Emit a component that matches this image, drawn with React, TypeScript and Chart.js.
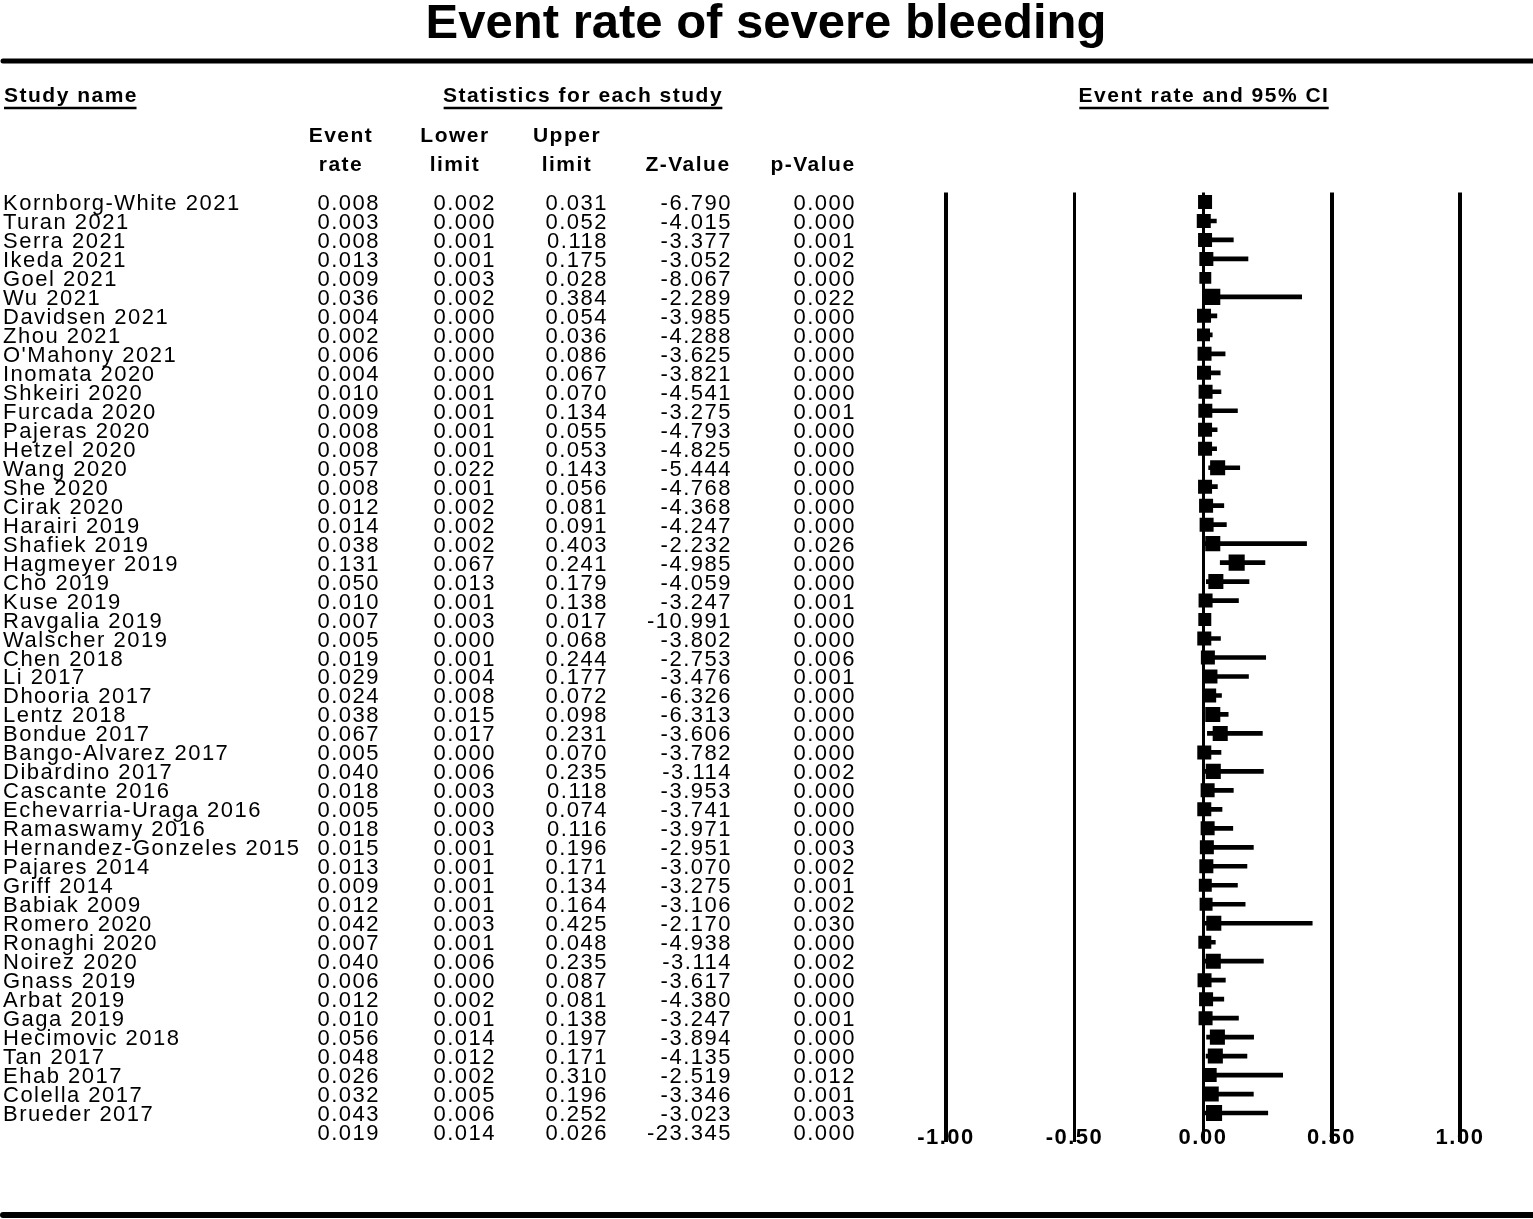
import React, { useEffect, useRef } from "react";
import { Chart, registerables } from "chart.js";

Chart.register(...registerables);

const chartTitle = "Event rate of severe bleeding";

const studies = [
  "Kornborg-White 2021", "Turan 2021", "Serra 2021", "Ikeda 2021", "Goel 2021",
  "Wu 2021", "Davidsen 2021", "Zhou 2021", "O'Mahony 2021", "Inomata 2020",
  "Shkeiri 2020", "Furcada 2020", "Pajeras 2020", "Hetzel 2020", "Wang 2020",
  "She 2020", "Cirak 2020", "Harairi 2019", "Shafiek 2019", "Hagmeyer 2019",
  "Cho 2019", "Kuse 2019", "Ravgalia 2019", "Walscher 2019", "Chen 2018",
  "Li 2017", "Dhooria 2017", "Lentz 2018", "Bondue 2017", "Bango-Alvarez 2017",
  "Dibardino 2017", "Cascante 2016", "Echevarria-Uraga 2016", "Ramaswamy 2016",
  "Hernandez-Gonzeles 2015", "Pajares 2014", "Griff 2014", "Babiak 2009",
  "Romero 2020", "Ronaghi 2020", "Noirez 2020", "Gnass 2019", "Arbat 2019",
  "Gaga 2019", "Hecimovic 2018", "Tan 2017", "Ehab 2017", "Colella 2017", "Brueder 2017",
];

const eventRate = [
  0.008, 0.003, 0.008, 0.013, 0.009, 0.036, 0.004, 0.002, 0.006, 0.004,
  0.010, 0.009, 0.008, 0.008, 0.057, 0.008, 0.012, 0.014, 0.038, 0.131,
  0.050, 0.010, 0.007, 0.005, 0.019, 0.029, 0.024, 0.038, 0.067, 0.005,
  0.040, 0.018, 0.005, 0.018, 0.015, 0.013, 0.009, 0.012, 0.042, 0.007,
  0.040, 0.006, 0.012, 0.010, 0.056, 0.048, 0.026, 0.032, 0.043,
];

const lowerLimit = [
  0.002, 0.000, 0.001, 0.001, 0.003, 0.002, 0.000, 0.000, 0.000, 0.000,
  0.001, 0.001, 0.001, 0.001, 0.022, 0.001, 0.002, 0.002, 0.002, 0.067,
  0.013, 0.001, 0.003, 0.000, 0.001, 0.004, 0.008, 0.015, 0.017, 0.000,
  0.006, 0.003, 0.000, 0.003, 0.001, 0.001, 0.001, 0.001, 0.003, 0.001,
  0.006, 0.000, 0.002, 0.001, 0.014, 0.012, 0.002, 0.005, 0.006,
];

const upperLimit = [
  0.031, 0.052, 0.118, 0.175, 0.028, 0.384, 0.054, 0.036, 0.086, 0.067,
  0.070, 0.134, 0.055, 0.053, 0.143, 0.056, 0.081, 0.091, 0.403, 0.241,
  0.179, 0.138, 0.017, 0.068, 0.244, 0.177, 0.072, 0.098, 0.231, 0.070,
  0.235, 0.118, 0.074, 0.116, 0.196, 0.171, 0.134, 0.164, 0.425, 0.048,
  0.235, 0.087, 0.081, 0.138, 0.197, 0.171, 0.310, 0.196, 0.252,
];

const zValue = [
  -6.790, -4.015, -3.377, -3.052, -8.067, -2.289, -3.985, -4.288, -3.625, -3.821,
  -4.541, -3.275, -4.793, -4.825, -5.444, -4.768, -4.368, -4.247, -2.232, -4.985,
  -4.059, -3.247, -10.991, -3.802, -2.753, -3.476, -6.326, -6.313, -3.606, -3.782,
  -3.114, -3.953, -3.741, -3.971, -2.951, -3.070, -3.275, -3.106, -2.170, -4.938,
  -3.114, -3.617, -4.380, -3.247, -3.894, -4.135, -2.519, -3.346, -3.023,
];

const pValue = [
  0.000, 0.000, 0.001, 0.002, 0.000, 0.022, 0.000, 0.000, 0.000, 0.000,
  0.000, 0.001, 0.000, 0.000, 0.000, 0.000, 0.000, 0.000, 0.026, 0.000,
  0.000, 0.001, 0.000, 0.000, 0.006, 0.001, 0.000, 0.000, 0.000, 0.000,
  0.002, 0.000, 0.000, 0.000, 0.003, 0.002, 0.001, 0.002, 0.030, 0.000,
  0.002, 0.000, 0.000, 0.001, 0.000, 0.000, 0.012, 0.001, 0.003,
];

// relative study weights (square size)
const weights = [
  2.0, 2.0, 2.0, 2.0, 1.7, 2.3, 2.0, 1.85, 2.0, 2.0,
  2.0, 2.0, 2.0, 2.0, 2.15, 2.0, 2.0, 2.0, 2.15, 2.3,
  2.15, 2.0, 1.85, 2.0, 2.0, 2.0, 2.0, 2.15, 2.15, 2.0,
  2.15, 2.0, 2.0, 2.0, 2.0, 2.0, 1.85, 1.85, 2.15, 1.85,
  2.15, 2.0, 2.0, 2.0, 2.15, 2.15, 2.0, 2.15, 2.3,
];

const summaryRow = [0.019, 0.014, 0.026, -23.345, 0.000];

const xTicks = [-1, -0.5, 0, 0.5, 1];

const FONT = '"Liberation Sans", Arial, Helvetica, sans-serif';
const W = 1533;
const H = 1219;

export default function App() {
  const ref = useRef<HTMLCanvasElement>(null);

  useEffect(() => {
    document.body.style.margin = "0";
    const canvas = ref.current;
    if (!canvas) return;
    const labels = [...studies, "Summary"];

    const tablePlugin = {
      id: "forestTable",
      afterDraw(chart: any) {
        const ctx: CanvasRenderingContext2D = chart.ctx;
        const ys = chart.scales.y;
        const xs = chart.scales.x;
        ctx.save();
        ctx.fillStyle = "#000";
        ctx.strokeStyle = "#000";
        (ctx as any).letterSpacing = "0px";

        // title
        ctx.font = `bold 49px ${FONT}`;
        ctx.textAlign = "center";
        ctx.textBaseline = "alphabetic";
        ctx.fillText(chartTitle, 766, 38);

        // rules
        ctx.lineCap = "round";
        ctx.lineWidth = 5;
        ctx.beginPath();
        ctx.moveTo(3, 61);
        ctx.lineTo(W, 61);
        ctx.stroke();
        ctx.lineWidth = 6;
        ctx.beginPath();
        ctx.moveTo(3, 1215);
        ctx.lineTo(W, 1215);
        ctx.stroke();
        ctx.lineCap = "butt";

        // group headers with underline
        (ctx as any).letterSpacing = "1.5px";
        ctx.font = `bold 21px ${FONT}`;
        const underlined = (text: string, cx: number, align: "left" | "center") => {
          ctx.textAlign = align;
          ctx.fillText(text, cx, 102);
          const w = ctx.measureText(text).width - 1.5;
          const x0 = align === "left" ? cx : cx - w / 2;
          ctx.lineWidth = 2.5;
          ctx.beginPath();
          ctx.moveTo(x0, 108);
          ctx.lineTo(x0 + w, 108);
          ctx.stroke();
        };
        underlined("Study name", 4, "left");
        underlined("Statistics for each study", 583, "center");
        const ciCenter = xs.getPixelForValue(0);
        underlined("Event rate and 95% CI", ciCenter + 1, "center");

        // column headers
        ctx.textAlign = "center";
        const colHead: [string, string, number][] = [
          ["Event", "rate", 341],
          ["Lower", "limit", 455],
          ["Upper", "limit", 567],
          ["", "Z-Value", 688],
          ["", "p-Value", 813],
        ];
        for (const [a, b, cx] of colHead) {
          if (a) ctx.fillText(a, cx, 142);
          ctx.fillText(b, cx, 171);
        }

        // rows
        ctx.font = `22px ${FONT}`;
        const colRight = [380, 496, 608, 732, 856];
        const fmt = (v: number) => v.toFixed(3);
        const n = studies.length;
        for (let i = 0; i <= n; i++) {
          const yc = ys.getPixelForValue(i);
          const base = yc + 8;
          let vals: number[];
          if (i < n) {
            ctx.textAlign = "left";
            ctx.fillText(studies[i], 3, base);
            vals = [eventRate[i], lowerLimit[i], upperLimit[i], zValue[i], pValue[i]];
          } else {
            vals = summaryRow;
          }
          ctx.textAlign = "right";
          vals.forEach((v, k) => ctx.fillText(fmt(v), colRight[k], base));
        }

        // x tick labels
        ctx.font = `bold 22px ${FONT}`;
        ctx.textAlign = "center";
        for (const t of xTicks) {
          ctx.fillText(t.toFixed(2), xs.getPixelForValue(t), 1144);
        }
        ctx.restore();
      },
    };

    const chart = new Chart(canvas, {
      type: "bar",
      data: {
        labels,
        datasets: [
          {
            type: "bar",
            label: "95% CI",
            indexAxis: "y",
            data: [...studies.map((_, i) => [lowerLimit[i], upperLimit[i]]), null] as any,
            backgroundColor: "#000",
            borderWidth: 0,
            barThickness: 4,
            order: 2,
          } as any,
          {
            type: "line",
            label: "Event rate",
            indexAxis: "y",
            data: [...eventRate, null] as any,
            showLine: false,
            pointStyle: "rect",
            pointRadius: [...weights.map((w) => (w * 7) / Math.SQRT2), 0],
            pointBackgroundColor: "#000",
            pointBorderWidth: 0,
            pointHoverRadius: 0,
            order: 1,
          } as any,
        ],
      },
      options: {
        indexAxis: "y",
        responsive: false,
        animation: false,
        devicePixelRatio: 1,
        layout: {
          autoPadding: false,
          padding: { left: 946, right: W - 1460, top: 192.5, bottom: H - 1141.5 },
        },
        plugins: {
          legend: { display: false },
          tooltip: { enabled: false },
          title: { display: false },
        },
        scales: {
          x: {
            type: "linear",
            min: -1,
            max: 1,
            position: "bottom",
            afterBuildTicks: (scale: any) => {
              scale.ticks = xTicks.map((v) => ({ value: v }));
            },
            ticks: { display: false },
            border: { display: false },
            grid: {
              color: "#000",
              drawTicks: false,
              lineWidth: (c: any) => {
                const v = c.tick ? c.tick.value : 0;
                return v === 0 || v === -0.5 ? 3 : 4;
              },
            },
          },
          y: {
            type: "category",
            offset: true,
            display: false,
            grid: { display: false },
          },
        },
      } as any,
      plugins: [tablePlugin],
    });

    return () => chart.destroy();
  }, []);

  return (
    <div style={{ width: W, height: H, background: "#fff" }}>
      <canvas ref={ref} width={W} height={H} style={{ display: "block", width: W, height: H }} />
    </div>
  );
}
